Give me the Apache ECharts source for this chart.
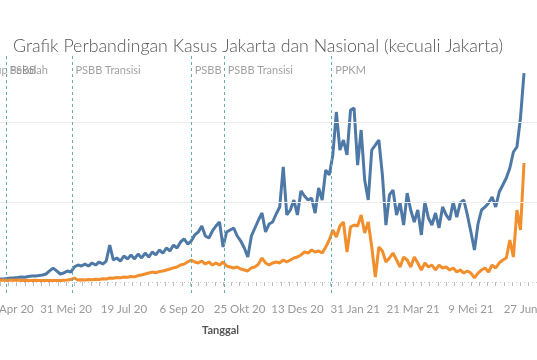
<!DOCTYPE html>
<html><head><meta charset="utf-8">
<script src="https://cdn.jsdelivr.net/npm/echarts@6/dist/echarts.min.js"></script>
<style>html,body{margin:0;padding:0;background:#fff}#c{width:537px;height:360px}</style>
</head><body><div id="c"></div>
<script>
// ---- data ----
const startDate = '2020-03-21';
const stepDays = 3;
const nasional = [
60,70,80,110,120,190,190,220,250,260,
280,310,300,340,370,380,400,440,500,690,
870,690,500,560,690,620,940,1060,1000,1120,
1000,1190,1060,1250,1120,1310,2310,1375,1500,1310,
1625,1440,1690,1440,1750,1500,1810,1560,1875,1690,
2000,1810,2125,1940,2310,2125,2500,2690,2375,2560,
2940,3125,3500,2875,2750,3190,3500,3750,2190,3125,
3250,3375,2875,2560,2125,1560,2875,3375,3875,4310,
3125,3625,3750,4250,4690,7190,4190,4500,5125,4190,
5690,5375,5125,5250,4310,5875,5125,7000,6690,7940,
10625,8250,8875,7940,10750,10875,7310,9500,6375,5125,
8250,8560,8875,6690,3560,5440,5750,4190,4940,3560,
5560,4500,3750,4500,2940,5000,4000,3560,4310,3375,
4690,4190,3875,5000,4060,4940,5125,4190,3125,2000,
3625,4500,4690,4940,5310,4690,5625,6060,6500,7125,
8125,8440,10250,13060];
const jakarta = [
30,35,40,45,50,110,120,100,130,110,
120,100,110,90,100,110,100,90,100,90,
100,90,100,110,120,150,250,120,140,130,
150,140,170,160,200,190,250,230,280,260,
310,300,340,320,400,440,500,560,620,580,
650,690,750,810,880,940,1060,1120,1250,1375,
1250,1190,1310,1120,1250,1060,1190,1060,1250,1000,
940,875,940,810,750,690,880,940,1120,1500,
1190,1060,1190,1250,1190,1375,1250,1375,1500,1560,
1690,1875,1810,2000,1875,1940,1810,2190,2625,3250,
2810,3500,3750,1875,3440,3560,3500,4190,3060,3750,
2190,310,2190,1940,1250,1500,1810,1375,940,1560,
1375,940,1560,1190,750,1190,940,1060,750,1060,
875,940,750,875,625,750,560,690,560,250,
560,750,875,625,1060,875,1190,1375,1500,2625,
1560,4500,3250,7440];
const eventDates = ['2020-03-16','2020-04-10','2020-06-05','2020-09-14','2020-10-12','2021-01-11'];
const eventNames = ['Tutup Sekolah','PSBB','PSBB Transisi','PSBB','PSBB Transisi','PPKM'];
const tickLabelDates = ['2020-04-12','2020-05-31','2020-07-19','2020-09-06','2020-10-25','2020-12-13','2021-01-31','2021-03-21','2021-05-09','2021-06-27'];
const monthNames = ['Jan','Feb','Mar','Apr','Mei','Jun','Jul','Agu','Sep','Okt','Nov','Des'];
const gridValues = [5000, 10000];
const axisStart = '2020-04-05', axisEnd = '2021-07-04';

// ---- helpers ----
function ts(s){const p=s.split('-').map(Number);return new Date(p[0],p[1]-1,p[2]).getTime();}
const DAY = 86400000;
const t0 = ts(startDate);
const dateAt = i => t0 + i*stepDays*DAY;
const nasData = nasional.map((v,i)=>[dateAt(i), v]);
const jktData = jakarta.map((v,i)=>[dateAt(i), v]);
const weekTicks = [];
for (let t = ts(axisStart); t <= ts(axisEnd); t += 7*DAY) weekTicks.push(t);

const chart = echarts.init(document.getElementById('c'), null, {renderer:'canvas'});
const FONT = 'Lato, "Open Sans", sans-serif';
chart.setOption({
  animation:false,
  backgroundColor:'#fff',
  title:{text:'Grafik Perbandingan Kasus Jakarta dan Nasional (kecuali Jakarta)', left:8, top:32,
    textStyle:{fontFamily:FONT, fontWeight:300, fontSize:17.8, color:'#555'}},
  graphic:[{type:'text', left:202, top:325, style:{text:'Tanggal', fontFamily:FONT, fontWeight:'bold', fontSize:11, fill:'#555'}}],
  grid:{left:0, right:0, top:55, bottom:67, containLabel:false, outerBoundsMode:'none'},
  xAxis:{type:'value', min:ts(axisStart), max:ts(axisEnd), scale:true,
    axisLine:{show:false},
    axisTick:{show:true, customValues:weekTicks, length:4, lineStyle:{color:'#bbb'}},
    splitLine:{show:false},
    axisLabel:{customValues:tickLabelDates.map(ts), margin:10, color:'#999', fontSize:11.5, fontFamily:FONT,
      formatter:v=>{const d=new Date(v);return d.getDate()+' '+monthNames[d.getMonth()]+' '+String(d.getFullYear()).slice(2);}}
  },
  yAxis:{type:'value', min:-687.5, max:14187.5, show:false, splitLine:{show:false}},
  series:[
    {type:'scatter', name:'events', z:1, clip:false, symbolSize:1, itemStyle:{color:'transparent'},
      data:eventDates.map((d,i)=>({name:eventNames[i], value:[ts(d), 13250]})),
      label:{show:true, position:'right', distance:3, formatter:'{b}', color:'#8a8a8a', fontSize:11, fontFamily:FONT},
      markLine:{silent:true, symbol:['none','none'], label:{show:false},
        data:[
          ...gridValues.map(v=>({yAxis:v, lineStyle:{color:'#ececec', width:1, type:'solid'}})),
          {yAxis:0, lineStyle:{color:'#c8c8c8', width:1, type:[1,3]}},
          ...eventDates.map(d=>({xAxis:ts(d), lineStyle:{color:'#5fb0ae', width:1, type:[3,3]}}))
        ]}
    },
    {type:'line', name:'Nasional (kecuali Jakarta)', z:3, data:nasData, showSymbol:false,
      lineStyle:{color:'#4e79a7', width:3}, itemStyle:{color:'#4e79a7'}},
    {type:'line', name:'Jakarta', z:4, data:jktData, showSymbol:false,
      lineStyle:{color:'#f28e2b', width:3}, itemStyle:{color:'#f28e2b'}}
  ]
});
</script>
</body></html>
